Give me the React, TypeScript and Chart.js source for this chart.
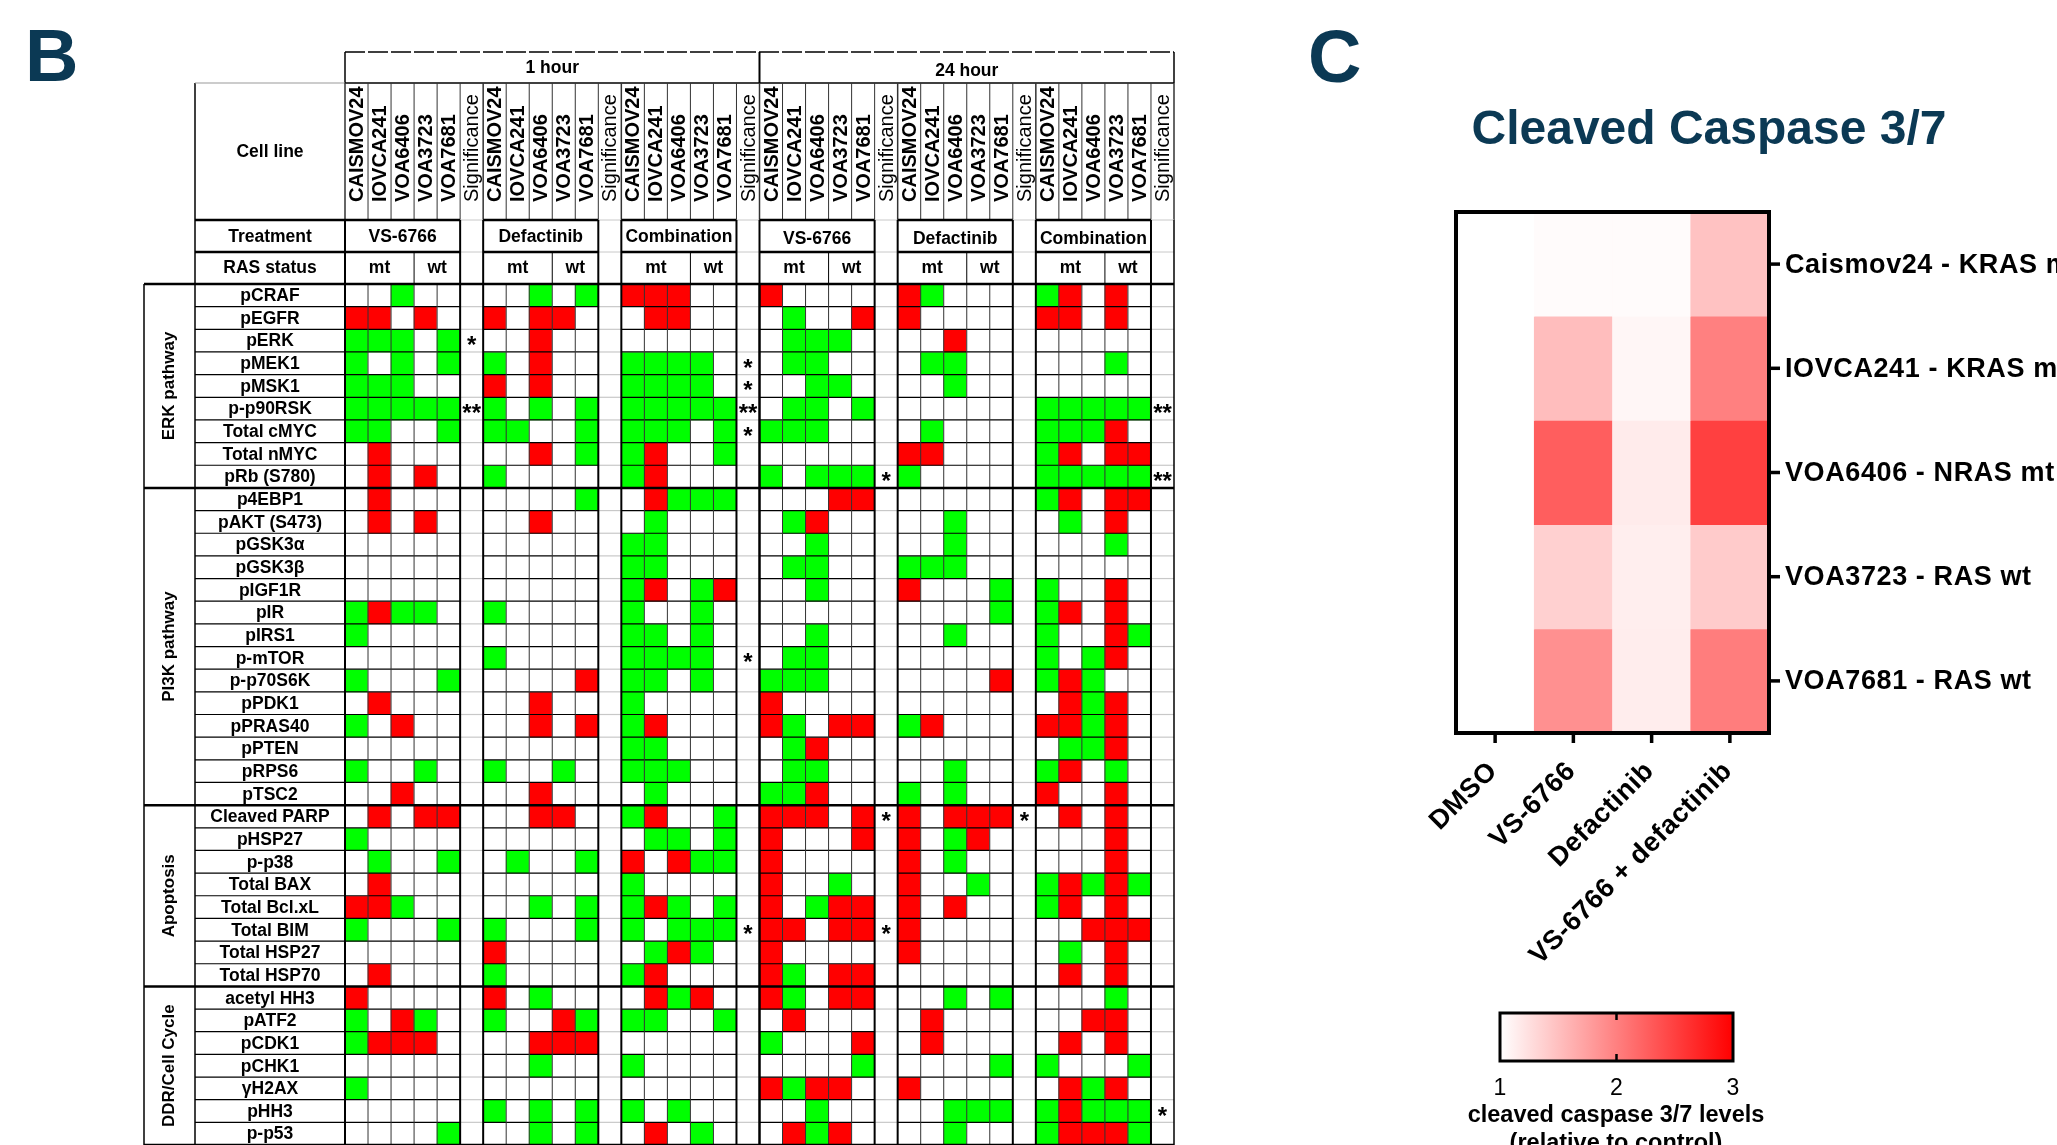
import React, { useEffect, useRef } from "react";
import { Chart, registerables } from "chart.js";

Chart.register(...registerables);

const FONT = '"Liberation Sans", Arial, Helvetica, sans-serif';
const NAVY = "#0b3954";
const GREEN = "#00ff00";
const RED = "#ff0000";
const SIG_LINE = "#c8c8c8";

// ---------------- Panel B data ----------------
const timepoints = ["1 hour", "24 hour"];
const treatmentsB = ["VS-6766", "Defactinib", "Combination"];
const cellLinesB = ["CAISMOV24", "IOVCA241", "VOA6406", "VOA3723", "VOA7681"];
const rasStatus = ["mt", "wt"];
const rasSpan = [3, 2];
const sigHeader = "Significance";
const sectionNames = ["ERK pathway", "PI3K pathway", "Apoptosis", "DDR/Cell Cycle"];
const sectionSizes = [9, 14, 8, 7];
const proteins = [
  "pCRAF", "pEGFR", "pERK", "pMEK1", "pMSK1", "p-p90RSK", "Total cMYC", "Total nMYC", "pRb (S780)",
  "p4EBP1", "pAKT (S473)", "pGSK3α", "pGSK3β", "pIGF1R", "pIR", "pIRS1", "p-mTOR", "p-p70S6K", "pPDK1",
  "pPRAS40", "pPTEN", "pRPS6", "pTSC2",
  "Cleaved PARP", "pHSP27", "p-p38", "Total BAX", "Total Bcl.xL", "Total BIM", "Total HSP27", "Total HSP70",
  "acetyl HH3", "pATF2", "pCDK1", "pCHK1", "γH2AX", "pHH3", "p-p53",
];

// g = decreased (green), r = increased (red), . = unchanged ; one char per cell line
const vs1h = [
  "..g..", "rr.r.", "ggg.g", "g.g.g", "ggg..", "ggggg", "gg..g", ".r...", ".r.r.",
  ".r...", ".r.r.", ".....", ".....", ".....", "grgg.", "g....", ".....", "g...g", ".r...",
  "g.r..", ".....", "g..g.", "..r..",
  ".r.rr", "g....", ".g..g", ".r...", "rrg..", "g...g", ".....", ".r...",
  "r....", "g.rg.", "grrr.", ".....", "g....", ".....", "....g",
];
const def1h = [
  "..g.g", "r.rr.", "..r..", "g.r..", "r.r..", "g.g.g", "gg..g", "..r.g", "g....",
  "....g", "..r..", ".....", ".....", ".....", "g....", ".....", "g....", "....r", "..r..",
  "..r.r", ".....", "g..g.", "..r..",
  "..rr.", ".....", ".g..g", ".....", "..g.g", "g...g", "r....", "g....",
  "r.g..", "g..rg", "..rrr", "..g..", ".....", "g.g.g", "..g.g",
];
const combo1h = [
  "rrr..", ".rr..", ".....", "gggg.", "gggg.", "ggggg", "ggg.g", "gr..g", "gr...",
  ".rggg", ".g...", "gg...", "gg...", "gr.gr", "g..g.", "gg.g.", "gggg.", "gg.g.", "g....",
  "gr...", "gg...", "ggg..", ".g...",
  "gr..g", ".gg.g", "r.rgg", "g....", "grg.g", "g.ggg", ".grg.", "gr...",
  ".rgr.", "gg..g", ".....", "g....", ".....", "g.g..", ".r.g.",
];
const vs24h = [
  "r....", ".g..r", ".ggg.", ".gg..", "..gg.", ".gg.g", "ggg..", ".....", "g.ggg",
  "...rr", ".gr..", "..g..", ".gg..", "..g..", ".....", "..g..", ".gg..", "ggg..", "r....",
  "rg.rr", ".gr..", ".gg..", "ggr..",
  "rrr.r", "r...r", "r....", "r..g.", "r.grr", "rr.rr", "r....", "rg.rr",
  "rg.rr", ".r...", "g...r", "....g", "rgrr.", "..g..", ".rgr.",
];
const def24h = [
  "rg...", "r....", "..r..", ".gg..", "..g..", ".....", ".g...", "rr...", "g....",
  ".....", "..g..", "..g..", "ggg..", "r...g", "....g", "..g..", ".....", "....r", ".....",
  "gr...", ".....", "..g..", "g.g..",
  "r.rrr", "r.gr.", "r.g..", "r..g.", "r.r..", "r....", "r....", ".....",
  "..g.g", ".r...", ".r...", "....g", "r....", "..ggg", "..g..",
];
const combo24h = [
  "gr.r.", "rr.r.", ".....", "...g.", ".....", "ggggg", "gggr.", "gr.rr", "ggggg",
  "gr.rr", ".g.r.", "...g.", ".....", "g..r.", "gr.r.", "g..rg", "g.gr.", "grg..", ".rgr.",
  "rrgr.", ".ggr.", "gr.g.", "r..r.",
  ".r.r.", "...r.", "...r.", "grgrg", "gr.r.", "..rrr", ".g.r.", ".r.r.",
  "...g.", "..rr.", ".r.r.", "g...g", ".rgr.", "grggg", "grrrg",
];

const sigVs1h: [string, string][] = [["pERK", "*"], ["p-p90RSK", "**"]];
const sigDef1h: [string, string][] = [];
const sigCombo1h: [string, string][] = [
  ["pMEK1", "*"], ["pMSK1", "*"], ["p-p90RSK", "**"], ["Total cMYC", "*"], ["p-mTOR", "*"], ["Total BIM", "*"],
];
const sigVs24h: [string, string][] = [["pRb (S780)", "*"], ["Cleaved PARP", "*"], ["Total BIM", "*"]];
const sigDef24h: [string, string][] = [["Cleaved PARP", "*"]];
const sigCombo24h: [string, string][] = [["p-p90RSK", "**"], ["pRb (S780)", "**"], ["pHH3", "*"]];

// ---------------- Panel C data ----------------
const titleC = "Cleaved Caspase 3/7";
const treatmentsC = ["DMSO", "VS-6766", "Defactinib", "VS-6766 + defactinib"];
const cellLinesC = [
  "Caismov24 - KRAS mt",
  "IOVCA241 - KRAS mt",
  "VOA6406 - NRAS mt",
  "VOA3723 - RAS wt",
  "VOA7681 - RAS wt",
];
const caspDMSO = [1.0, 1.0, 1.0, 1.0, 1.0];
const caspVS = [1.03, 1.52, 2.26, 1.37, 1.87];
const caspDef = [1.03, 1.07, 1.16, 1.13, 1.14];
const caspCombo = [1.48, 2.0, 2.5, 1.41, 2.02];
const colorbarTicks = [1, 2, 3];
const colorbarTitle = ["cleaved caspase 3/7 levels", "(relative to control)"];

// ---------------- helpers ----------------
type TO = { align?: CanvasTextAlign; base?: CanvasTextBaseline; sx?: number; rot?: number; color?: string; ls?: string };
function T(ctx: CanvasRenderingContext2D, s: string, x: number, y: number, font: string, o: TO = {}) {
  ctx.save();
  ctx.translate(x, y);
  if (o.rot) ctx.rotate(o.rot);
  if (o.sx) ctx.scale(o.sx, 1);
  ctx.font = font;
  ctx.fillStyle = o.color || "#000";
  ctx.textAlign = o.align || "center";
  ctx.textBaseline = o.base || "middle";
  if (o.ls) (ctx as any).letterSpacing = o.ls;
  ctx.fillText(s, 0, 0);
  ctx.restore();
}
function L(ctx: CanvasRenderingContext2D, x1: number, y1: number, x2: number, y2: number, w: number, c = "#000", dash?: number[]) {
  ctx.save();
  ctx.beginPath();
  ctx.strokeStyle = c;
  ctx.lineWidth = w;
  if (dash) ctx.setLineDash(dash);
  ctx.moveTo(x1, y1);
  ctx.lineTo(x2, y2);
  ctx.stroke();
  ctx.restore();
}
function cmap(v: number) {
  const t = Math.max(0, Math.min(1, (v - colorbarTicks[0]) / (colorbarTicks[2] - colorbarTicks[0])));
  const gb = Math.round(255 * (1 - t));
  return `rgb(255,${gb},${gb})`;
}

// ---------------- Panel B ----------------
function PanelB() {
  const ref = useRef<HTMLCanvasElement>(null);
  useEffect(() => {
    const cellSets = [vs1h, def1h, combo1h, vs24h, def24h, combo24h];
    const sigSets = [sigVs1h, sigDef1h, sigCombo1h, sigVs24h, sigDef24h, sigCombo24h];
    type Col = { g: number; c: number; sig: boolean };
    const columns: Col[] = [];
    const labels: string[] = [];
    cellSets.forEach((_, g) => {
      cellLinesB.forEach((cl, c) => {
        columns.push({ g, c, sig: false });
        labels.push(`${timepoints[Math.floor(g / 3)]} ${treatmentsB[g % 3]} ${cl}`);
      });
      columns.push({ g, c: -1, sig: true });
      labels.push(`${timepoints[Math.floor(g / 3)]} ${treatmentsB[g % 3]} ${sigHeader}`);
    });
    const nRows = proteins.length;
    const colour = (ch: string) => (ch === "g" ? GREEN : ch === "r" ? RED : "#ffffff");
    const datasets = proteins.map((p, r) => ({
      label: p,
      data: columns.map((col) => (col.sig ? null : [r, r + 1])) as any,
      backgroundColor: columns.map((col) => (col.sig ? "rgba(0,0,0,0)" : colour(cellSets[col.g][r][col.c]))),
      borderWidth: 0,
      barPercentage: 1,
      categoryPercentage: 1,
      grouped: false,
    }));

    const plugin = {
      id: "tableB",
      afterDraw(chart: any) {
        const ctx: CanvasRenderingContext2D = chart.ctx;
        const xs = chart.scales.x, ys = chart.scales.y;
        const nCols = columns.length;
        const colW = (xs.right - xs.left) / nCols;
        const xb = (i: number) => xs.left + i * colW;
        const xc = (i: number) => xs.getPixelForValue(i);
        const yb = (r: number) => ys.getPixelForValue(r);
        const yTop = 52, yTime = 83, yCell = 220, yTreat = 252;
        const yData = yb(0), yEnd = yb(nRows);
        const labL = 195, secL = 144;
        const labC = (labL + xb(0)) / 2, secC = (secL + labL) / 2;
        const bold = `bold 17.5px ${FONT}`;

        // section boundaries
        const secB: number[] = [0];
        let acc = 0;
        sectionSizes.forEach((s) => { acc += s; secB.push(acc); });

        // thin horizontal row lines
        for (let r = 1; r < nRows; r++) {
          if (secB.includes(r)) continue;
          const y = yb(r);
          L(ctx, labL, y, xb(0), y, 1.2);
          for (let g = 0; g < 6; g++) {
            L(ctx, xb(g * 6), y, xb(g * 6 + 5), y, 1.2, "#000");
            L(ctx, xb(g * 6 + 5), y, xb(g * 6 + 6), y, 1.2, SIG_LINE);
          }
        }
        // vertical lines in data
        for (let i = 0; i <= nCols; i++) {
          const m = i % 6;
          let w = 1, c = "#333";
          if (m === 0 || m === 5) { w = 2; c = "#000"; }
          if (i === 18) w = 2.5;
          if (i === nCols) { w = 1.5; c = "#000"; }
          L(ctx, xb(i), yData, xb(i), yEnd, w, c);
        }
        L(ctx, secL, yData, secL, yEnd, 1.5);
        L(ctx, labL, yTime, labL, yEnd, 1.5);
        // section thick lines
        secB.forEach((r) => L(ctx, secL, yb(r), xb(nCols), yb(r), 2.5));

        // ---- header lines ----
        L(ctx, xb(0), yTop, xb(nCols), yTop, 1.5, "#000", [20, 3]);
        [0, 18, 36].forEach((i) => L(ctx, xb(i), yTop, xb(i), yTime, i === 18 ? 2 : 1.5));
        L(ctx, labL, yTime, xb(0), yTime, 1, "#999");
        L(ctx, xb(0), yTime, xb(nCols), yTime, 1.5);
        for (let i = 0; i <= nCols; i++) L(ctx, xb(i), yTime, xb(i), yCell, i % 6 === 0 ? 1.5 : 1, "#333");
        [yCell, yTreat].forEach((y) => {
          L(ctx, labL, y, xb(0), y, 2.5);
          for (let g = 0; g < 6; g++) {
            L(ctx, xb(g * 6), y, xb(g * 6 + 5), y, 2.5);
            L(ctx, xb(g * 6 + 5), y, xb(g * 6 + 6), y, 1, SIG_LINE);
          }
        });
        for (let g = 0; g < 6; g++) {
          L(ctx, xb(g * 6), yCell, xb(g * 6), yData, 2);
          L(ctx, xb(g * 6 + 5), yCell, xb(g * 6 + 5), yData, 2);
          L(ctx, xb(g * 6 + rasSpan[0]), yTreat, xb(g * 6 + rasSpan[0]), yData, 1);
        }
        L(ctx, xb(nCols), yCell, xb(nCols), yData, 1.5);

        // ---- header text ----
        T(ctx, "B", 25, 81, `bold 74px ${FONT}`, { align: "left", base: "alphabetic", color: NAVY });
        timepoints.forEach((t, k) => T(ctx, t, (xb(k * 18) + xb(k * 18 + 18)) / 2, k === 0 ? 68 : 71, bold));
        T(ctx, "Cell line", labC, 152, bold);
        columns.forEach((col, i) => {
          const s = col.sig ? sigHeader : cellLinesB[col.c];
          T(ctx, s, xc(i) + 1, 202, col.sig ? `20px ${FONT}` : `bold 20px ${FONT}`, { align: "left", rot: -Math.PI / 2 });
        });
        T(ctx, "Treatment", labC, 237, bold);
        T(ctx, "RAS status", labC, 268, bold);
        for (let g = 0; g < 6; g++) {
          const yT = g < 3 ? 237 : 239;
          T(ctx, treatmentsB[g % 3], (xb(g * 6) + xb(g * 6 + 5)) / 2, yT, bold);
          let s0 = g * 6;
          rasStatus.forEach((rs, k) => {
            T(ctx, rs, (xb(s0) + xb(s0 + rasSpan[k])) / 2, 268, bold);
            s0 += rasSpan[k];
          });
        }

        // ---- row text ----
        proteins.forEach((p, r) => {
          const yc = (yb(r) + yb(r + 1)) / 2;
          T(ctx, p, labC, yc + 1, bold);
        });
        sectionNames.forEach((s, k) => {
          const ym = (yb(secB[k]) + yb(secB[k + 1])) / 2;
          T(ctx, s, secC, ym, `bold 17px ${FONT}`, { rot: -Math.PI / 2 });
        });
        sigSets.forEach((set, g) => {
          set.forEach(([p, stars]) => {
            const r = proteins.indexOf(p);
            const yc = (yb(r) + yb(r + 1)) / 2;
            T(ctx, stars, xc(g * 6 + 5), yc + 12.5, `bold 24px ${FONT}`, { base: "alphabetic" });
          });
        });
      },
    };

    const chart = new Chart(ref.current!, {
      type: "bar",
      data: { labels, datasets },
      options: {
        responsive: false,
        animation: false,
        devicePixelRatio: 1,
        layout: { padding: { left: 345, right: 1250 - 1174, top: 284, bottom: 0 } },
        scales: {
          x: { type: "category", display: false, offset: true },
          y: { type: "linear", display: false, min: 0, max: nRows, reverse: true },
        },
        plugins: { legend: { display: false }, tooltip: { enabled: false } },
      } as any,
      plugins: [plugin],
    });
    return () => chart.destroy();
  }, []);
  return (
    <canvas
      ref={ref}
      width={1250}
      height={1145}
      style={{ position: "absolute", left: 0, top: 0, width: 1250, height: 1145, display: "block" }}
    />
  );
}

// ---------------- Panel C ----------------
function PanelC() {
  const ref = useRef<HTMLCanvasElement>(null);
  useEffect(() => {
    const valsByTreatment = [caspDMSO, caspVS, caspDef, caspCombo];
    const datasets = cellLinesC.map((cl, r) => ({
      label: cl,
      data: treatmentsC.map(() => [r, r + 1]) as any,
      backgroundColor: treatmentsC.map((_, c) => cmap(valsByTreatment[c][r])),
      borderWidth: 0,
      barPercentage: 1,
      categoryPercentage: 1,
      grouped: false,
    }));
    const plugin = {
      id: "heatC",
      afterDraw(chart: any) {
        const ctx: CanvasRenderingContext2D = chart.ctx;
        const a = chart.chartArea;
        const xs = chart.scales.x, ys = chart.scales.y;
        T(ctx, "C", 8, 82, `bold 74px ${FONT}`, { align: "left", base: "alphabetic", color: NAVY });
        T(ctx, titleC, 409, 144, `bold 48px ${FONT}`, { base: "alphabetic", color: NAVY });
        // border
        ctx.save();
        ctx.strokeStyle = "#000";
        ctx.lineWidth = 4;
        ctx.strokeRect(a.left, a.top, a.right - a.left, a.bottom - a.top);
        ctx.restore();
        // y ticks + labels
        cellLinesC.forEach((s, r) => {
          const y = (ys.getPixelForValue(r) + ys.getPixelForValue(r + 1)) / 2;
          L(ctx, a.right, y, a.right + 11, y, 3.5);
          T(ctx, s, a.right + 16, y + 1, `bold 27px ${FONT}`, { align: "left", ls: "0.6px" });
        });
        // x ticks + labels
        treatmentsC.forEach((s, c) => {
          const x = xs.getPixelForValue(c);
          L(ctx, x, a.bottom, x, a.bottom + 10, 3.5);
          T(ctx, s, x - 2, 767, `bold 27px ${FONT}`, { align: "right", rot: -Math.PI / 4, ls: "0.5px" });
        });
        // colorbar
        const cbL = 200, cbR = 433, cbT = 1013, cbB = 1061;
        const grad = ctx.createLinearGradient(cbL, 0, cbR, 0);
        grad.addColorStop(0, cmap(colorbarTicks[0]));
        grad.addColorStop(0.5, cmap(colorbarTicks[1]));
        grad.addColorStop(1, cmap(colorbarTicks[2]));
        ctx.save();
        ctx.fillStyle = grad;
        ctx.fillRect(cbL, cbT, cbR - cbL, cbB - cbT);
        ctx.strokeStyle = "#000";
        ctx.lineWidth = 3;
        ctx.strokeRect(cbL, cbT, cbR - cbL, cbB - cbT);
        ctx.restore();
        const span = colorbarTicks[2] - colorbarTicks[0];
        colorbarTicks.forEach((v) => {
          const x = cbL + ((v - colorbarTicks[0]) / span) * (cbR - cbL);
          if (v !== colorbarTicks[0] && v !== colorbarTicks[2]) {
            L(ctx, x, cbT, x, cbT + 7, 2.5);
            L(ctx, x, cbB - 7, x, cbB, 2.5);
          }
          T(ctx, String(v), x, 1089, `23px ${FONT}`);
        });
        T(ctx, colorbarTitle[0], 316, 1122, `bold 23.5px ${FONT}`, { base: "alphabetic" });
        T(ctx, colorbarTitle[1], 316, 1150, `bold 23.5px ${FONT}`, { base: "alphabetic" });
      },
    };
    const chart = new Chart(ref.current!, {
      type: "bar",
      data: { labels: treatmentsC, datasets },
      options: {
        responsive: false,
        animation: false,
        devicePixelRatio: 1,
        layout: { padding: { left: 156, right: 757 - 469, top: 212, bottom: 1145 - 733 } },
        scales: {
          x: { type: "category", display: false, offset: true },
          y: { type: "linear", display: false, min: 0, max: cellLinesC.length, reverse: true },
        },
        plugins: { legend: { display: false }, tooltip: { enabled: false } },
      } as any,
      plugins: [plugin],
    });
    return () => chart.destroy();
  }, []);
  return (
    <canvas
      ref={ref}
      width={757}
      height={1145}
      style={{ position: "absolute", left: 1300, top: 0, width: 757, height: 1145, display: "block" }}
    />
  );
}

export default function App() {
  return (
    <div
      style={{
        position: "absolute",
        left: 0,
        top: 0,
        width: 2057,
        height: 1145,
        overflow: "hidden",
        background: "#ffffff",
      }}
    >
      <PanelB />
      <PanelC />
    </div>
  );
}
